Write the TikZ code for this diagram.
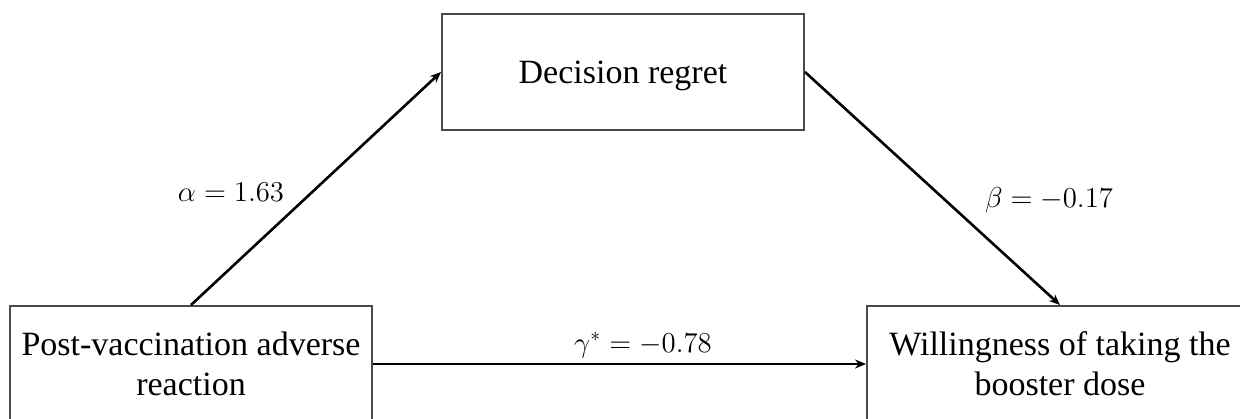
\documentclass[tikz,border=0pt]{standalone}
\usepackage{fontspec}
\setmainfont{Liberation Serif}
\usetikzlibrary{arrows.meta}
\definecolor{boxgray}{HTML}{4A4A4A}
\begin{document}
\begin{tikzpicture}[x=0.5pt,y=-0.5pt,
  box/.style={draw=boxgray,line width=1pt,rectangle,inner sep=0pt,
    minimum height=58pt,align=center,font=\fontsize{17}{20}\selectfont},
  arr/.style={line width=1.3pt,-{Stealth[length=5.5pt,width=4.5pt]}},
  lab/.style={font=\fontsize{14.4}{17}\selectfont,inner sep=0pt}]
\useasboundingbox (0,0) rectangle (1240,418);
\clip (0,0) rectangle (1240,418);
\node[box,minimum width=181pt,text depth=0pt] (dr) at (623,72) {Decision regret};
\node[box,minimum width=181pt] (pv) at (191,364) {Post-vaccination adverse\\reaction};
\node[box,minimum width=193pt] (wb) at (1060,364) {Willingness of taking the\\booster dose};
\draw[arr] (pv.north) -- (dr.west);
\draw[arr] (dr.east) -- (wb.north);
\draw[arr] (pv.east) -- (wb.west);
\node[lab] (la) at (231,192) {$\alpha = 1.63$};
\node[lab] (lb) at (1049,200) {$\beta = -0.17$};
\node[lab] (lg) at (643,345) {$\gamma^{*} = -0.78$};
\end{tikzpicture}
\end{document}
